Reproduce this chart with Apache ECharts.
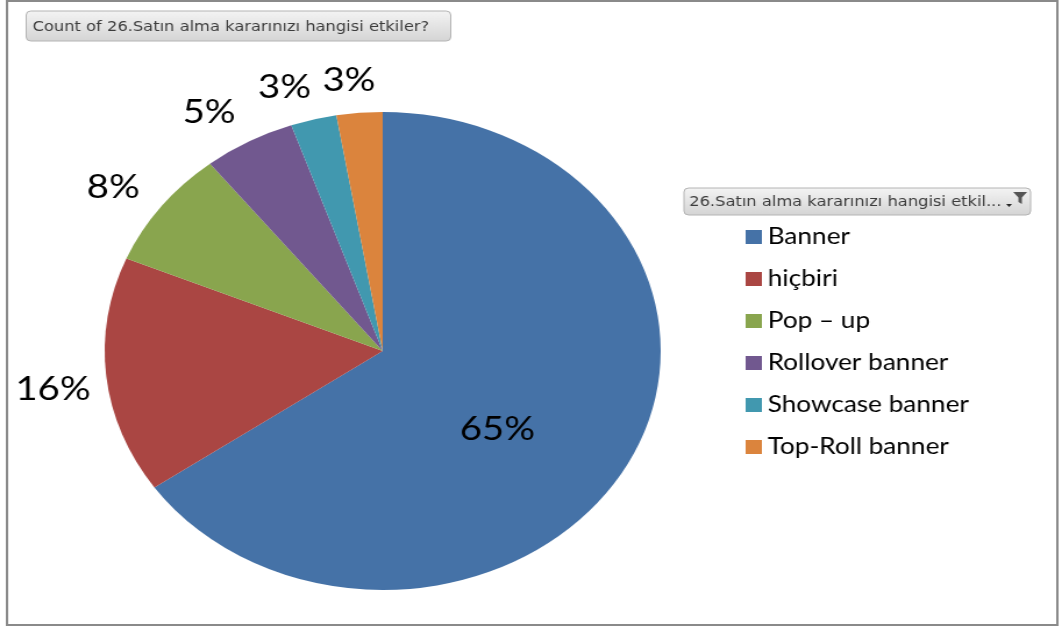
<!DOCTYPE html>
<html>
<head>
<meta charset="utf-8">
<script src="https://cdn.jsdelivr.net/npm/echarts@6/dist/echarts.min.js"></script>
<style>
  html, body { margin: 0; padding: 0; background: #fff; }
  #stage { position: absolute; left: 0; top: 0; width: 1062px; height: 630px; overflow: hidden; background: #fff; }
  /* the chart is laid out at 913px and widened to the full 1062px stage */
  #chart { width: 913px; height: 630px; transform: scaleX(1.1632); transform-origin: 0 0; }
</style>
</head>
<body>
<div id="stage"><div id="chart"></div></div>
<script>
// Answers to "26.Satın alma kararınızı hangisi etkiler?"
const CATEGORIES = ['Banner', 'hiçbiri', 'Pop – up', 'Rollover banner', 'Showcase banner', 'Top-Roll banner'];
const COUNTS = [49, 12, 6, 4, 2, 2];
const COLORS = ['#4572A7', '#AA4643', '#89A54E', '#71588F', '#4198AF', '#DB843D'];
const TITLE_TEXT = 'Count of 26.Satın alma kararınızı hangisi etkiler?';
const FIELD_TEXT = '26.Satın alma kararınızı hangisi etkil...';

const PIE_CENTER = [329, 351];
const PIE_R = 239;
const LABEL_FONT = 'Lato, "Open Sans", sans-serif';
const UI_FONT = '"DejaVu Sans", Verdana, sans-serif';

// small nudges for the outside labels so the narrow slices keep them apart
const OUTSIDE_LABEL_NUDGE = [null, [2, 8], [-3, 10], [-11, 13], [-13, 14], [-5, 15]];

const pctLabel = p => Math.round(p.percent) + '%';

const sliceData = CATEGORIES.map((name, i) => ({
  name,
  value: COUNTS[i],
  itemStyle: { color: COLORS[i] },
  label: { show: i === 0 }
}));

// invisible ring around the pie that carries the outside percentage labels
const ringData = CATEGORIES.map((name, i) => ({
  name,
  value: COUNTS[i],
  label: i === 0 ? { show: false } : { show: true, offset: OUTSIDE_LABEL_NUDGE[i] }
}));

const buttonFill = new echarts.graphic.LinearGradient(0, 0, 0, 1, [
  { offset: 0, color: '#f4f4f4' },
  { offset: 1, color: '#d4d4d4' }
]);

const chart = echarts.init(document.getElementById('chart'), null, { renderer: 'canvas' });

chart.setOption({
  animation: false,
  backgroundColor: '#ffffff',
  legend: {
    orient: 'vertical',
    left: 641,
    top: 225,
    padding: 0,
    icon: 'rect',
    itemWidth: 14,
    itemHeight: 14,
    itemGap: 18,
    itemTextGap: 5,
    data: CATEGORIES,
    textStyle: { fontFamily: LABEL_FONT, fontSize: 22.5, lineHeight: 24, color: '#000' }
  },
  graphic: [
    {
      type: 'rect',
      silent: true,
      shape: { x: 6, y: 1, width: 903, height: 624 },
      style: { fill: 'none', stroke: '#8a8a8a', lineWidth: 2 }
    },
    {
      type: 'group',
      silent: true,
      children: [
        {
          type: 'rect',
          shape: { x: 22.5, y: 11, width: 365, height: 30, r: 4 },
          style: { fill: buttonFill, stroke: '#b4b4b4', lineWidth: 1 }
        },
        {
          type: 'text',
          x: 28, y: 27,
          style: { text: TITLE_TEXT, font: '14px ' + UI_FONT, fill: '#3c3c3c', verticalAlign: 'middle' }
        }
      ]
    },
    {
      type: 'group',
      silent: true,
      children: [
        {
          type: 'rect',
          shape: { x: 588, y: 188, width: 298, height: 27, r: 4 },
          style: { fill: buttonFill, stroke: '#b4b4b4', lineWidth: 1 }
        },
        {
          type: 'text',
          x: 592.5, y: 202,
          style: { text: FIELD_TEXT, font: '14px ' + UI_FONT, fill: '#3c3c3c', verticalAlign: 'middle' }
        },
        {
          // dropdown arrow
          type: 'polygon',
          shape: { points: [[865, 204], [870, 204], [867.5, 207]] },
          style: { fill: '#222' }
        },
        {
          // filter funnel
          type: 'polygon',
          shape: { points: [[871, 192], [883, 192], [878.5, 197.5], [878.5, 204], [875.5, 202], [875.5, 197.5]] },
          style: { fill: '#555' }
        }
      ]
    }
  ],
  series: [
    {
      name: 'slices',
      type: 'pie',
      center: PIE_CENTER,
      radius: [0, PIE_R],
      startAngle: 90,
      clockwise: true,
      avoidLabelOverlap: false,
      emphasis: { disabled: true },
      itemStyle: { borderWidth: 0 },
      label: {
        position: 'inside',
        formatter: pctLabel,
        fontFamily: LABEL_FONT,
        fontSize: 33,
        color: '#000',
        offset: [-10, 22]
      },
      labelLine: { show: false },
      data: sliceData
    },
    {
      name: 'labels',
      type: 'pie',
      silent: true,
      center: PIE_CENTER,
      radius: [PIE_R, PIE_R + 90],
      startAngle: 90,
      clockwise: true,
      avoidLabelOverlap: false,
      emphasis: { disabled: true },
      itemStyle: { color: 'rgba(0,0,0,0)', borderWidth: 0 },
      label: {
        position: 'inside',
        formatter: pctLabel,
        fontFamily: LABEL_FONT,
        fontSize: 33,
        color: '#000'
      },
      labelLine: { show: false },
      data: ringData
    }
  ]
});
</script>
</body>
</html>
